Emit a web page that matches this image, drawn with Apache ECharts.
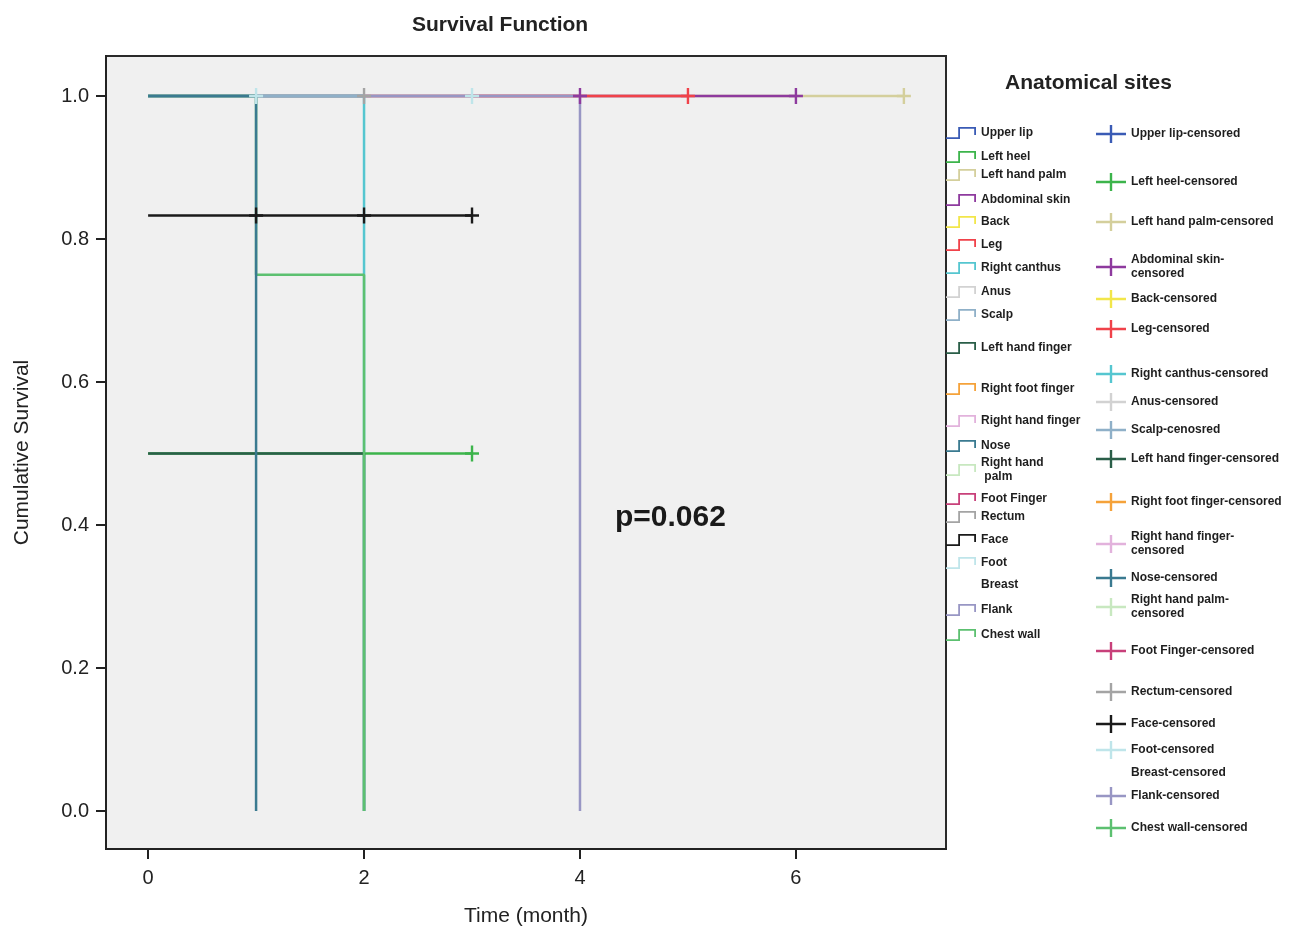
<!DOCTYPE html>
<html>
<head>
<meta charset="utf-8">
<title>Survival Function</title>
<script src="https://cdn.jsdelivr.net/npm/echarts@6/dist/echarts.min.js"></script>
<style>
  html, body { margin: 0; padding: 0; background: #fff; }
  #main { width: 1292px; height: 930px; }
</style>
</head>
<body>
<div id="main"></div>
<script>
// anatomical sites (legend order)
var sites = ['Upper lip', 'Left heel', 'Left hand palm', 'Abdominal skin', 'Back', 'Leg',
  'Right canthus', 'Anus', 'Scalp', 'Left hand finger', 'Right foot finger', 'Right hand finger',
  'Nose', 'Right hand palm', 'Foot Finger', 'Rectum', 'Face', 'Foot', 'Breast', 'Flank', 'Chest wall'];

// Kaplan-Meier steps: time of each step and survival after it
var curveTimes = [[], [0, 3], [0, 7], [0, 6], [], [0, 5], [0, 2], [], [0, 2], [0, 2], [], [],
  [0, 1], [], [], [0, 2], [0, 3], [0, 3], [], [0, 4], [0, 1, 2]];
var curveSurv = [[], [0.5, 0.5], [1, 1], [1, 1], [], [1, 1], [1, 0], [], [1, 1], [0.5, 0], [], [],
  [1, 0], [], [], [1, 1], [0.833, 0.833], [1, 1], [], [1, 0], [1, 0.75, 0]];

// censored observations
var censorTimes = [[], [3], [7], [4, 6], [], [5], [], [], [], [], [], [], [], [], [], [2], [1, 2, 3], [1, 3], [], [], []];
var censorSurv = [[], [0.5], [1], [1, 1], [], [1], [], [], [], [], [], [], [], [], [], [1], [0.833, 0.833, 0.833], [1, 1], [], [], []];

var xTicks = [0, 2, 4, 6];
var yTicks = [0, 0.2, 0.4, 0.6, 0.8, 1.0];

// colours per site
var siteColors = ['#3a5bb5', '#3cb44b', '#d4cf9c', '#8e3a9e', '#f2e64a', '#f0424a',
  '#55c6d0', '#d2d2d2', '#8fb0c8', '#2a5e48', '#f5a23a', '#e2b2dc',
  '#3a7a90', '#c8e8c0', '#c8407a', '#a4a4a4', '#1a1a1a', '#bfe5ea', 'transparent', '#9896c4', '#5cc070'];

// order lines are painted in (later = on top)
var drawOrder = [2, 3, 5, 17, 19, 15, 6, 8, 1, 9, 20, 12, 16, 0, 4, 7, 10, 11, 13, 14, 18];

// legend text centres
var leftLegendY = [133, 157, 175, 200, 222, 245, 268, 292, 315, 348, 389, 421, 446, 470, 499, 517, 540, 563, 585, 610, 635];
var rightLegendY = [132, 180, 220, 267, 297, 327, 372, 400, 428, 457, 500, 544, 576, 607, 649, 690, 722, 748, 771, 794, 826];

var leftLabels = { 'Right hand palm': 'Right hand\n palm' };
var rightLabels = {
  'Abdominal skin-censored': 'Abdominal skin-\ncensored',
  'Scalp-censored': 'Scalp-cenosred',
  'Right hand finger-censored': 'Right hand finger-\ncensored',
  'Right hand palm-censored': 'Right hand palm-\ncensored'
};

var FONT = 'Liberation Sans, Arial, sans-serif';
var stepIcon = 'path://M0,10.2H12.2V0H30V8H28.2V1.8H14V12H0Z';
var crossIcon = 'path://M0,7.8H13.8V0H16.2V7.8H30V10.2H16.2V18H13.8V10.2H0Z';
var censorMark = 'path://M-1.2,-8H1.2V-1.2H7V1.2H1.2V8H-1.2V1.2H-7V-1.2H-1.2Z';

var myChart = echarts.init(document.getElementById('main'));

var series = [];
drawOrder.forEach(function (i) {
  var pts = curveTimes[i].map(function (t, k) { return [t, curveSurv[i][k]]; });
  series.push({
    name: sites[i],
    type: 'line',
    step: 'end',
    symbol: 'none',
    data: pts,
    z: 2,
    itemStyle: { color: siteColors[i] },
    lineStyle: { color: siteColors[i], width: 2.5 }
  });
});
drawOrder.forEach(function (i) {
  var pts = censorTimes[i].map(function (t, k) { return [t, censorSurv[i][k]]; });
  series.push({
    name: sites[i] + '-censored',
    type: 'scatter',
    symbol: censorMark,
    symbolSize: [14, 16],
    data: pts,
    z: 3,
    itemStyle: { color: siteColors[i], opacity: 1 }
  });
});

function lineCount(s) { return s.split('\n').length; }

var legends = [];
sites.forEach(function (s, i) {
  var label = leftLabels[s] || s;
  var h = 14 * lineCount(label);
  legends.push({
    data: [s], orient: 'vertical', left: 946, top: leftLegendY[i] - h / 2, padding: 0,
    icon: stepIcon, itemWidth: 30, itemHeight: 12,
    itemStyle: { borderWidth: 0 },
    formatter: function () { return label; },
    textStyle: { fontFamily: FONT, fontWeight: 'bold', fontSize: 12, lineHeight: 14, color: '#1e1e1e' }
  });
  var cname = s + '-censored';
  var clabel = rightLabels[cname] || cname;
  var ch = 14 * lineCount(clabel);
  legends.push({
    data: [cname], orient: 'vertical', left: 1096, top: rightLegendY[i] - ch / 2, padding: 0,
    icon: crossIcon, itemWidth: 30, itemHeight: 18,
    itemStyle: { borderWidth: 0 },
    formatter: function () { return clabel; },
    textStyle: { fontFamily: FONT, fontWeight: 'bold', fontSize: 12, lineHeight: 14, color: '#1e1e1e' }
  });
});

var option = {
  animation: false,
  backgroundColor: '#ffffff',
  title: [
    { text: 'Survival Function', left: 407, top: 10,
      textStyle: { fontFamily: FONT, fontSize: 21, fontWeight: 'bold', color: '#222' } },
    { text: 'Anatomical sites', left: 1000, top: 68,
      textStyle: { fontFamily: FONT, fontSize: 21, fontWeight: 'bold', color: '#222' } }
  ],
  legend: legends,
  grid: {
    show: true, left: 106, top: 56, width: 840, height: 793,
    outerBoundsMode: 'none',
    backgroundColor: '#f0f0f0', borderColor: '#2a2a2a', borderWidth: 2
  },
  xAxis: {
    type: 'value', min: -0.39, max: 7.39,
    name: 'Time (month)', nameLocation: 'middle', nameGap: 57,
    nameTextStyle: { fontFamily: FONT, fontSize: 21, color: '#222' },
    axisLine: { onZero: false, lineStyle: { color: '#222', width: 2 } },
    axisTick: { show: true, length: 10, customValues: xTicks, lineStyle: { color: '#222', width: 2 } },
    axisLabel: { customValues: xTicks, margin: 19, fontFamily: FONT, fontSize: 20, color: '#222' },
    splitLine: { show: false }
  },
  yAxis: {
    type: 'value', min: -0.053, max: 1.056,
    name: 'Cumulative Survival', nameLocation: 'middle', nameGap: 73,
    nameTextStyle: { fontFamily: FONT, fontSize: 21, color: '#222' },
    axisLine: { show: true, onZero: false, lineStyle: { color: '#222', width: 2 } },
    axisTick: { show: true, length: 10, customValues: yTicks, lineStyle: { color: '#222', width: 2 } },
    axisLabel: {
      customValues: yTicks, margin: 17, fontFamily: FONT, fontSize: 20, color: '#222',
      formatter: function (v) { return v.toFixed(1); }
    },
    splitLine: { show: false }
  },
  graphic: [
    { type: 'text', left: 615, top: 503,
      style: { text: 'p=0.062', fontFamily: FONT, fontSize: 30, fontWeight: 'bold', fill: '#1a1a1a' } }
  ],
  series: series
};
myChart.setOption(option);
</script>
</body>
</html>
